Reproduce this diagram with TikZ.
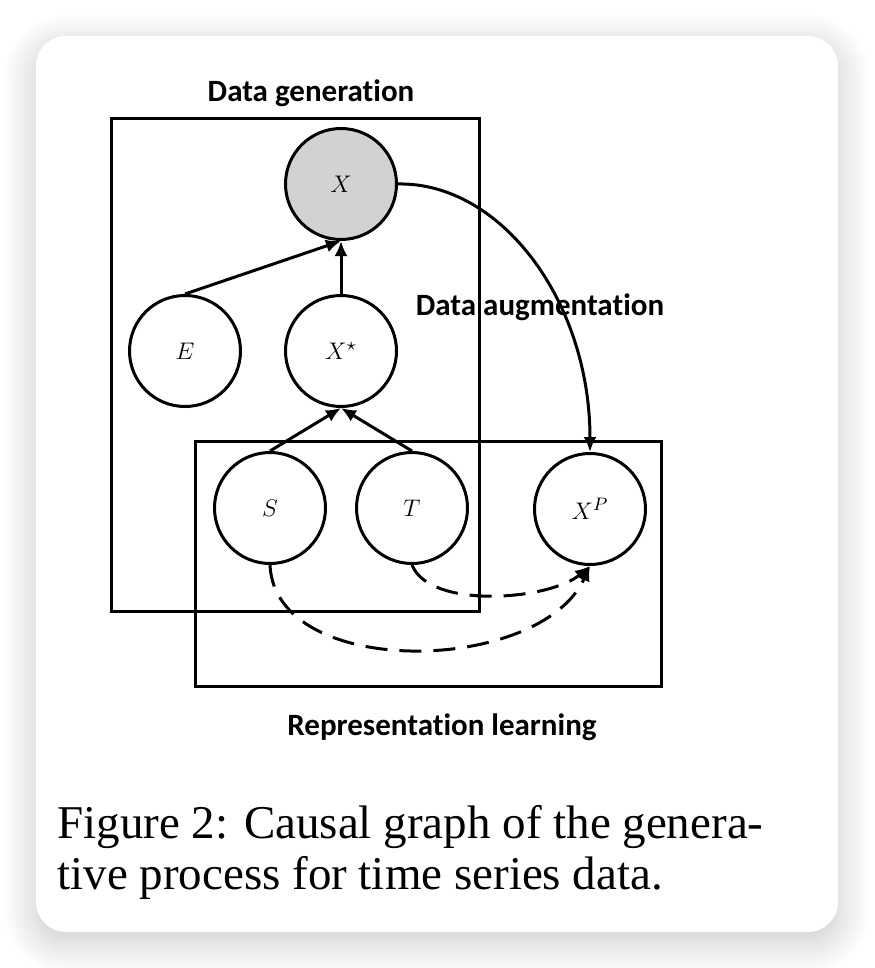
\documentclass[tikz,border=0pt]{standalone}
\usepackage{fontspec}
\setmainfont{Liberation Serif}
\newfontfamily\platefont{Carlito}[Ligatures=NoCommon]
\usetikzlibrary{arrows.meta,shadows.blur}

\tikzset{
  var/.style={circle,draw,line width=1.5pt,minimum size=55.5pt,inner sep=0pt,
    font=\fontsize{12.5}{14}\selectfont},
  plate/.style={draw,line width=1.5pt},
  platelabel/.style={anchor=base,font=\platefont\bfseries\fontsize{15.5}{18}\selectfont},
  cause/.style={-{Latex[length=7.5pt,width=6.5pt]},line width=1.5pt},
  aug/.style={cause,dash pattern=on 11pt off 6pt},
}

\begin{document}
\begin{tikzpicture}[x=0.5pt,y=-0.5pt]
\useasboundingbox (0,0) rectangle (874,968);
% card
\fill[white,rounded corners=15pt,
  blur shadow={shadow xshift=0pt,shadow yshift=-5pt,shadow blur radius=16pt,
    shadow blur steps=20,shadow opacity=22}]
  (36,36) rectangle (838,932);

% plates
\draw[plate] (111,119) rectangle (479,611);
\draw[plate] (195,441) rectangle (661,686);
\node[platelabel] (gen) at (311,102) {Data generation};
\node[platelabel] (augl) at (540,315) {Data augmentation};
\node[platelabel] (rep) at (442,735) {Representation learning};

% variables
\node[var,fill=gray!35] (X) at (341,184) {$X$};
\node[var] (E) at (185,351) {$E$};
\node[var] (Xs) at (341,351) {$X^\star$};
\node[var] (S) at (270,508) {$S$};
\node[var] (T) at (412,508) {$T$};
\node[var] (XP) at (590,509) {$X^P$};

% causal edges
\draw[cause] (E.north) -- (X.south);
\draw[cause] (Xs.north) -- (X.south);
\draw[cause] (S.north) -- (Xs.south);
\draw[cause] (T.north) -- (Xs.south);
\draw[cause] (X.east) .. controls (500,182) and (590,300) .. (XP.north);
\draw[aug] (S.south) .. controls (275,680) and (540,675) .. (XP.south);
\draw[aug] (T.south) .. controls (430,610) and (550,600) .. (XP.south);

% caption
\node[anchor=north west,inner sep=0pt,align=left,font=\fontsize{23.5}{25.5}\selectfont] (cap)
  at (57,805) {Figure 2: Causal graph of the genera-\\tive process for time series data.};
\end{tikzpicture}
\end{document}
